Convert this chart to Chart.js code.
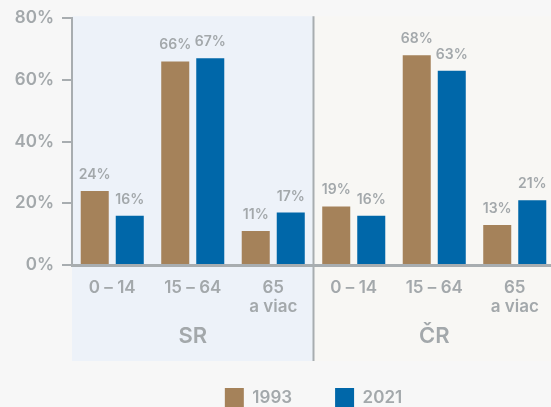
<!DOCTYPE html>
<html>
<head>
<meta charset="utf-8">
<script src="https://cdn.jsdelivr.net/npm/chart.js@4"></script>
<style>
  html, body { margin: 0; padding: 0; overflow: hidden; background: #f7f7f7; }
  #wrap { width: 555px; height: 417px; }
</style>
</head>
<body>
<div id="wrap"><canvas id="chart"></canvas></div>
<script>
// age groups, SR then CR
var ageLabels = ['0 – 14', '15 – 64', ['65', 'a viac'], '0 – 14', '15 – 64', ['65', 'a viac']];
var countryLabels = ['SR', 'ČR'];
var values1993 = [24, 66, 11, 19, 68, 13];
var values2021 = [16, 67, 17, 16, 63, 21];
var yTicks = [0, 20, 40, 60, 80];

var grayText = '#a3a8ab';
var axisGray = '#a8adb0';
var fontFamily = 'Inter';

var panelsPlugin = {
	id: 'panels',
	beforeDraw: function(chart) {
		var ctx = chart.ctx;
		var area = chart.chartArea;
		var x = chart.scales.x;
		var mid = (x.getPixelForValue(2) + x.getPixelForValue(3)) / 2;
		var top = area.top - 2;
		var bottom = area.bottom + 96;
		ctx.save();
		ctx.fillStyle = '#f7f7f7';
		ctx.fillRect(0, 0, chart.width, chart.height);
		ctx.fillStyle = '#edf2f9';
		ctx.fillRect(area.left, top, mid - area.left, bottom - top);
		ctx.fillStyle = '#f8f7f4';
		ctx.fillRect(mid, top, chart.width - mid, bottom - top);
		ctx.strokeStyle = axisGray;
		ctx.lineWidth = 2;
		ctx.beginPath();
		ctx.moveTo(mid, top);
		ctx.lineTo(mid, bottom);
		ctx.stroke();
		ctx.restore();
	}
};

var valueLabelsPlugin = {
	id: 'valueLabels',
	afterDatasetsDraw: function(chart) {
		var ctx = chart.ctx;
		ctx.save();
		ctx.font = '600 14px ' + fontFamily;
		ctx.fillStyle = grayText;
		ctx.textAlign = 'center';
		ctx.textBaseline = 'alphabetic';
		chart.data.datasets.forEach(function(ds, i) {
			chart.getDatasetMeta(i).data.forEach(function(bar, j) {
				ctx.fillText(ds.data[j] + '%', bar.x, bar.y - 12);
			});
		});
		ctx.restore();
	}
};

var ctx = document.getElementById('chart').getContext('2d');
var myChart = new Chart(ctx, {
	type: 'bar',
	data: {
		labels: ageLabels,
		datasets: [{
			label: '1993',
			data: values1993,
			backgroundColor: '#a5825a',
			borderWidth: 0,
			categoryPercentage: 0.87,
			barPercentage: 0.8
		}, {
			label: '2021',
			data: values2021,
			backgroundColor: '#0067a9',
			borderWidth: 0,
			categoryPercentage: 0.87,
			barPercentage: 0.8
		}]
	},
	options: {
		responsive: true,
		maintainAspectRatio: false,
		animation: false,
		layout: { padding: { top: 8, left: 0, right: 0, bottom: 0 } },
		plugins: {
			tooltip: { enabled: false },
			legend: {
				position: 'bottom',
				fullSize: false,
				labels: {
					color: grayText,
					font: { family: fontFamily, size: 17, weight: '600' },
					boxWidth: 19,
					boxHeight: 19,
					padding: 43
				}
			}
		},
		scales: {
			y: {
				min: 0,
				max: 80,
				afterFit: function(scale) { scale.width = 72; },
				afterBuildTicks: function(scale) {
					scale.ticks = yTicks.map(function(v) { return { value: v }; });
				},
				ticks: {
					color: grayText,
					font: { family: fontFamily, size: 17, weight: '600' },
					padding: 8,
					callback: function(v) { return v + '%'; }
				},
				grid: {
					drawOnChartArea: false,
					drawTicks: true,
					tickLength: 10,
					color: axisGray,
					lineWidth: 2
				},
				border: { display: true, color: axisGray, width: 2 }
			},
			x: {
				grid: { display: false, drawTicks: false },
				border: { display: true, color: axisGray, width: 3 },
				afterFit: function(scale) { scale.height = 52; },
				ticks: {
					color: grayText,
					font: { family: fontFamily, size: 17, weight: '600', lineHeight: 1.15 },
					padding: 13,
					maxRotation: 0,
					autoSkip: false
				}
			},
			xg: {
				type: 'category',
				position: 'bottom',
				labels: countryLabels,
				offset: true,
				grid: { display: false, drawTicks: false },
				border: { display: false },
				afterFit: function(scale) { scale.height = 28; },
				ticks: {
					color: grayText,
					font: { family: fontFamily, size: 22, weight: '600', lineHeight: 1 },
					padding: 8
				}
			}
		}
	},
	plugins: [panelsPlugin, valueLabelsPlugin]
});
</script>
</body>
</html>
